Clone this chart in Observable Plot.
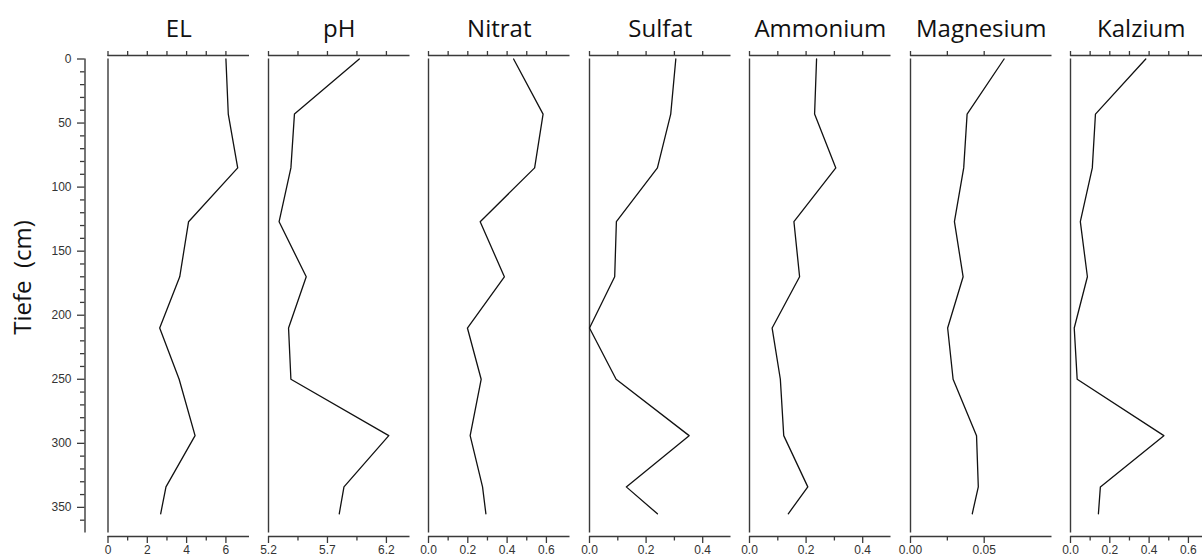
<!DOCTYPE html>
<html>
<head>
<meta charset="utf-8">
<script src="https://cdn.jsdelivr.net/npm/d3@7"></script>
<script src="https://cdn.jsdelivr.net/npm/@observablehq/plot@0.6"></script>
<style>
  html, body { margin: 0; padding: 0; background: #fff; overflow: hidden; }
  #chart { position: relative; width: 1202px; height: 557px; overflow: hidden; }
  #chart svg { position: absolute; top: 0; }
</style>
</head>
<body>
<div id="chart"></div>
<script>
// Sampling depths (cm) of the soil profile
const depths = [0, 43, 85, 127, 170, 210, 250, 294, 334, 355];

// Measured values per parameter, one per depth
const elValues        = [6.0, 6.12, 6.6, 4.1, 3.65, 2.63, 3.62, 4.43, 2.95, 2.68];
const phValues        = [5.97, 5.42, 5.39, 5.29, 5.52, 5.37, 5.39, 6.22, 5.84, 5.80];
const nitratValues    = [0.433, 0.583, 0.540, 0.263, 0.386, 0.198, 0.268, 0.212, 0.275, 0.292];
const sulfatValues    = [0.305, 0.287, 0.240, 0.095, 0.089, 0.0, 0.094, 0.352, 0.130, 0.240];
const ammoniumValues  = [0.237, 0.230, 0.305, 0.157, 0.177, 0.080, 0.109, 0.121, 0.206, 0.137];
const magnesiumValues = [0.0635, 0.0384, 0.0361, 0.0298, 0.0357, 0.0252, 0.0289, 0.0448, 0.0460, 0.0419];
const kalziumValues   = [0.383, 0.127, 0.111, 0.050, 0.086, 0.019, 0.034, 0.475, 0.152, 0.142];

// Panel titles
const names = ["EL", "pH", "Nitrat", "Sulfat", "Ammonium", "Magnesium", "Kalzium"];

// Axis extents and tick values per panel
const domains = [[0, 7.2], [5.2, 6.4], [0, 0.72], [0, 0.5], [0, 0.5], [0, 0.096], [0, 0.72]];
const topTicks = [
  [0, 1, 2, 3, 4, 5, 6],
  [5.2, 5.45, 5.7, 5.95, 6.2],
  [0, 0.1, 0.2, 0.3, 0.4, 0.5, 0.6],
  [0, 0.1, 0.2, 0.3, 0.4],
  [0, 0.1, 0.2, 0.3, 0.4],
  [0, 0.025, 0.05],
  [0, 0.1, 0.2, 0.3, 0.4, 0.5, 0.6]
];
const majorTicks = [
  [0, 2, 4, 6],
  [5.2, 5.7, 6.2],
  [0, 0.2, 0.4, 0.6],
  [0, 0.2, 0.4],
  [0, 0.2, 0.4],
  [0, 0.05],
  [0, 0.2, 0.4, 0.6]
];
const minorTicks = [
  [1, 3, 5],
  [5.45, 5.95],
  [0.1, 0.3, 0.5],
  [0.1, 0.3],
  [0.1, 0.3],
  [0.025],
  [0.1, 0.3, 0.5]
];
const tickFormats = ["d", ".1f", ".1f", ".1f", ".1f", ".2f", ".1f"];

// Depth axis ticks
const depthMajor = [0, 50, 100, 150, 200, 250, 300, 350];
const depthMinor = [10, 20, 30, 40, 60, 70, 80, 90, 110, 120, 130, 140, 160, 170, 180, 190,
                    210, 220, 230, 240, 260, 270, 280, 290, 310, 320, 330, 340, 360];
const depthDomain = [0, 370];

const series = [elValues, phValues, nitratValues, sulfatValues, ammoniumValues, magnesiumValues, kalziumValues];

// Layout
const H = 557, marginTop = 58.5, marginBottom = 24.5;
const panelWidth = 141.5, firstLeft = 107.5, step = 160.45, pad = 12;
const axisColor = "#3a3a3a", textColor = "#333";
const tickFont = "'Liberation Sans', Arial, sans-serif";
const titleFont = "'Open Sans', sans-serif";

const chart = document.getElementById("chart");

series.forEach((values, i) => {
  const rows = depths.map((d, k) => ({depth: d, value: values[k]}));
  const first = i === 0;
  const left = firstLeft + i * step;
  const mLeft = first ? left : pad;
  const width = mLeft + panelWidth + pad;
  const fmt = d3.format(tickFormats[i]);
  const x0 = domains[i][0];

  const marks = [
    // title above the panel
    Plot.text([names[i]], {
      text: d => d, frameAnchor: "top", textAnchor: "middle", lineAnchor: "middle",
      dy: -29.5, fontSize: 24, fontFamily: titleFont, fill: "#111"
    }),
    // top axis: line plus unlabeled ticks
    Plot.ruleY([depthDomain[0]], {dy: -3.5, stroke: axisColor, strokeWidth: 1.4}),
    Plot.axisX({
      anchor: "top", ticks: topTicks[i], tickSize: 5, dy: -3.5, tickFormat: () => "",
      label: null, stroke: axisColor, strokeWidth: 1.3
    }),
    // bottom axis: line, labelled major ticks and minor ticks
    Plot.ruleY([depthDomain[1]], {dy: 3.5, stroke: axisColor, strokeWidth: 1.4}),
    Plot.axisX({
      anchor: "bottom", ticks: majorTicks[i], tickSize: 7, tickPadding: 2, dy: 3.5,
      tickFormat: fmt, label: null, stroke: axisColor, strokeWidth: 1.3,
      fill: textColor, fontSize: 12, fontFamily: tickFont
    }),
    Plot.axisX({
      anchor: "bottom", ticks: minorTicks[i], tickSize: 4.5, dy: 3.5, tickFormat: () => "",
      label: null, stroke: axisColor, strokeWidth: 1.3
    }),
    // left edge of the panel
    Plot.ruleX([x0], {stroke: axisColor, strokeWidth: 1.4}),
    // depth profile
    Plot.line(rows, {x: "value", y: "depth", stroke: "#111", strokeWidth: 1.3})
  ];

  if (first) {
    marks.push(
      Plot.ruleX([x0], {dx: -23, stroke: axisColor, strokeWidth: 1.4}),
      Plot.axisY({
        anchor: "left", ticks: depthMajor, tickSize: 7.5, tickPadding: 6, dx: -23,
        tickFormat: d3.format("d"), label: null, stroke: axisColor, strokeWidth: 1.3,
        fill: textColor, fontSize: 12, fontFamily: tickFont
      }),
      Plot.axisY({
        anchor: "left", ticks: depthMinor, tickSize: 4.5, dx: -23, tickFormat: () => "",
        label: null, stroke: axisColor, strokeWidth: 1.3
      }),
      Plot.text(["Tiefe  (cm)"], {
        text: d => d, frameAnchor: "left", textAnchor: "middle", lineAnchor: "middle",
        rotate: -90, dx: 23 - left, dy: 277 - (marginTop + (H - marginTop - marginBottom) / 2),
        fontSize: 24, fontFamily: titleFont, fill: "#111"
      })
    );
  }

  const svg = Plot.plot({
    width, height: H,
    marginTop, marginBottom, marginLeft: mLeft, marginRight: pad,
    x: {domain: domains[i], axis: null},
    y: {domain: depthDomain, reverse: true, axis: null},
    style: {overflow: "visible", background: "transparent"},
    marks
  });
  svg.style.left = (left - mLeft) + "px";
  chart.appendChild(svg);
});
</script>
</body>
</html>
